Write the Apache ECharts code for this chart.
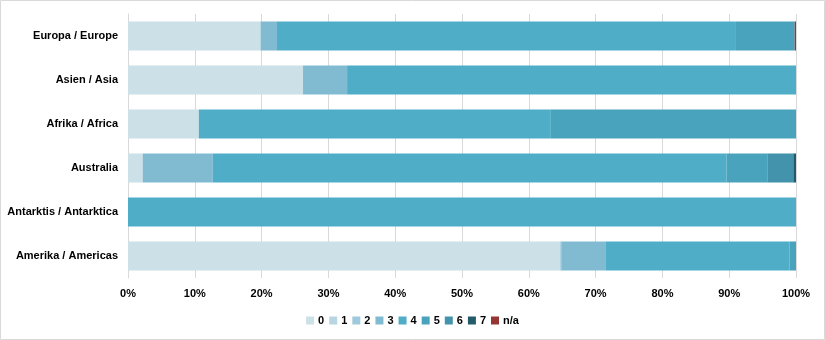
<!DOCTYPE html>
<html><head><meta charset="utf-8">
<script src="https://cdn.jsdelivr.net/npm/echarts@6/dist/echarts.min.js"></script>
<style>html,body{margin:0;padding:0;background:#fff}#c{width:825px;height:340px}</style>
</head><body><div id="c"></div>
<script>
const categories = ['Europa / Europe','Asien / Asia','Afrika / Africa','Australia','Antarktis / Antarktica','Amerika / Americas'];
const seriesNames = ['0','1','2','3','4','5','6','7','n/a'];
const s0 = [19.66, 26.2, 10.6, 2.2, 0, 64.7];
const s1 = [0.2, 0, 0, 0, 0, 0];
const s2 = [0, 0, 0, 0, 0, 0.15];
const s3 = [2.45, 6.6, 0, 10.5, 0, 6.7];
const s4 = [68.7, 67.2, 52.7, 76.9, 100, 27.5];
const s5 = [8.79, 0, 36.7, 6.1, 0, 0.95];
const s6 = [0, 0, 0, 3.9, 0, 0];
const s7 = [0, 0, 0, 0.4, 0, 0];
const sNA = [0.2, 0, 0, 0, 0, 0];
const xTicks = [0,10,20,30,40,50,60,70,80,90,100];

const values = [s0,s1,s2,s3,s4,s5,s6,s7,sNA];
const colors = ['#CCE0E8','#B8D6E2','#9FCADB','#80BBD1','#4FADC8','#4AA3BC','#4493AD','#245B69','#963634'];
const font = 'Liberation Sans';
const chart = echarts.init(document.getElementById('c'));
chart.setOption({
  animation: false,
  color: colors,
  graphic: [{type:'rect', shape:{x:0.5,y:0.5,width:824,height:339}, style:{fill:'none', stroke:'#D9D9D9', lineWidth:1}, silent:true}],
  grid: {left:128, right:29, top:14, bottom:62},
  legend: {
    data: seriesNames, bottom: 9, left: 'center', itemWidth: 8, itemHeight: 8, itemGap: 5,
    icon: 'rect',
    textStyle: {fontFamily: font, fontWeight:'bold', fontSize:11, color:'#000', padding:[0,0,0,-1]}
  },
  xAxis: {
    type:'value', min:xTicks[0], max:xTicks[xTicks.length-1], interval:10,
    axisLabel:{formatter:'{value}%', fontFamily:font, fontWeight:'bold', fontSize:11, color:'#000', margin:10},
    splitLine:{show:true, lineStyle:{color:'#D9D9D9'}},
    axisLine:{show:false}, axisTick:{show:false}
  },
  yAxis: {
    type:'category', data:categories, inverse:true,
    axisLabel:{fontFamily:font, fontWeight:'bold', fontSize:11, color:'#000', margin:10},
    axisLine:{show:true, lineStyle:{color:'#D9D9D9'}}, axisTick:{show:false}
  },
  series: seriesNames.map((n,i)=>({
    name:n, type:'bar', stack:'all', data:values[i], barCategoryGap:'34%',
    itemStyle:{color:colors[i]}
  }))
});
</script></body></html>
